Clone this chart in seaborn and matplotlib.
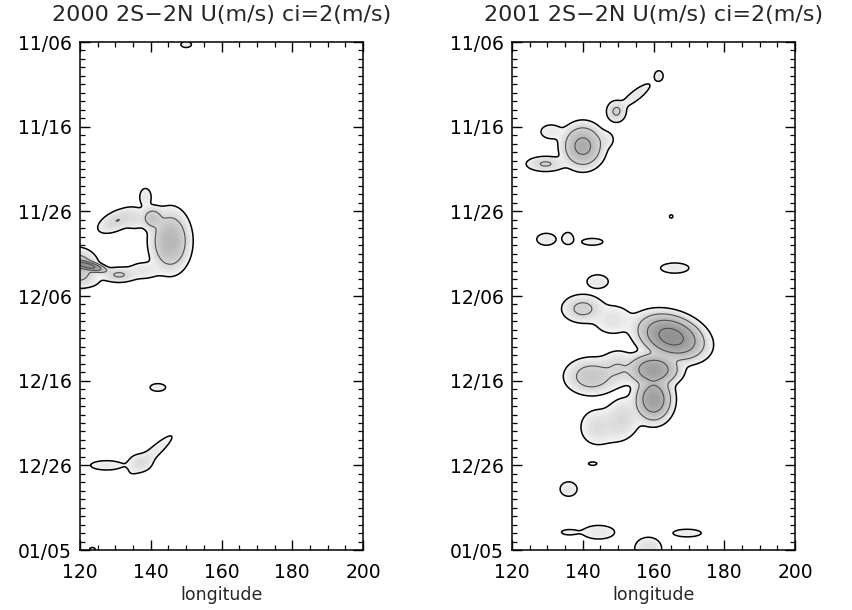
import numpy as np
import matplotlib
matplotlib.use("Agg")
import matplotlib.pyplot as plt
import seaborn as sns

# ---------------------------------------------------------------
# Time axis: days since 11/06 (60 days shown, time runs downward)
# ---------------------------------------------------------------
day_ticks = [0, 10, 20, 30, 40, 50, 60]
day_labels = ["11/06", "11/16", "11/26", "12/06", "12/16", "12/26", "01/05"]
lon_ticks = [120, 140, 160, 180, 200]

# Contour interval of the zonal wind anomaly (m/s); first drawn level
CI = 2.0
BASE = 5.0

# ---------------------------------------------------------------
# Westerly-burst cells for each year:
#   centre longitude, centre day, peak U (m/s),
#   half-extent of the 5 m/s contour in longitude (deg) and in days,
#   tilt (days per degree of longitude)
# ---------------------------------------------------------------
lon_2000 = [150.0, 138.5, 145.5, 140.5, 135.5, 130.5, 119.0, 122.0, 131.0,
            138.0, 122.0, 142.0, 140.5, 137.0, 127.5, 123.5]
day_2000 = [0.3, 18.3, 23.5, 20.8, 20.9, 21.1, 26.6, 26.4, 27.5,
            27.0, 28.2, 40.8, 48.6, 49.7, 50.0, 59.9]
peak_2000 = [5.6, 6.0, 9.0, 8.0, 6.3, 7.0, 8.5, 12.0, 7.2,
             6.0, 5.6, 5.6, 5.8, 6.2, 5.8, 5.2]
xr_2000 = [1.5, 1.6, 6.5, 3.5, 3.0, 5.5, 6.5, 6.8, 5.0,
           4.0, 3.0, 2.2, 5.5, 3.2, 4.5, 0.8]
yr_2000 = [0.35, 1.0, 4.2, 1.5, 1.1, 1.25, 2.4, 0.75, 0.9,
           0.9, 0.6, 0.45, 0.8, 1.0, 0.55, 0.2]
tilt_2000 = [0.0, 0.0, 0.0, 0.0, 0.0, -0.15, 0.0, 0.1, 0.0,
             0.0, 0.0, 0.0, -0.35, 0.0, 0.0, 0.0]

lon_2001 = [161.5, 149.5, 155.0, 140.0, 146.5, 131.0, 129.5, 165.0,
            129.7, 135.8, 142.7, 166.0, 144.2,
            140.0, 148.5, 165.0, 160.0, 160.0, 142.5, 150.0, 144.0, 151.0,
            142.8, 136.0, 136.0, 144.5, 158.5, 169.5]
day_2001 = [4.0, 8.2, 6.3, 12.3, 11.5, 10.6, 14.4, 20.6,
            23.3, 23.2, 23.6, 26.7, 28.3,
            31.5, 32.8, 34.8, 38.7, 42.2, 39.5, 38.5, 45.5, 44.6,
            49.8, 52.8, 57.9, 57.9, 59.8, 58.0]
peak_2001 = [6.0, 7.3, 6.0, 9.6, 5.8, 5.8, 7.2, 5.2,
             5.8, 5.7, 5.6, 5.8, 6.0,
             7.5, 6.2, 11.8, 10.5, 10.5, 8.0, 7.0, 6.5, 6.8,
             5.2, 6.0, 5.4, 6.0, 6.5, 5.6]
xr_2001 = [1.2, 2.8, 4.0, 7.0, 2.0, 2.8, 5.5, 0.5,
           2.7, 1.5, 3.0, 4.0, 3.0,
           6.0, 5.0, 12.0, 9.0, 6.5, 8.0, 5.0, 4.5, 5.5,
           1.2, 2.4, 2.0, 4.5, 3.8, 4.0]
yr_2001 = [0.6, 1.3, 0.7, 3.1, 0.8, 0.8, 0.9, 0.2,
           0.7, 0.7, 0.4, 0.6, 0.8,
           1.7, 1.6, 3.3, 2.4, 3.3, 2.3, 2.0, 2.0, 2.5,
           0.2, 0.85, 0.3, 0.8, 1.3, 0.45]
tilt_2001 = [0.0, 0.0, -0.29, 0.0, 0.0, 0.0, 0.0, 0.0,
             0.0, 0.0, 0.0, 0.0, 0.0,
             0.0, 0.0, 0.08, 0.0, 0.0, 0.0, 0.0, 0.0, -0.1,
             0.0, 0.0, 0.0, 0.0, 0.0, 0.0]

titles = ["2000 2S\u22122N U(m/s) ci=2(m/s)", "2001 2S\u22122N U(m/s) ci=2(m/s)"]


def wind_field(lon, day, x0s, y0s, peaks, xrs, yrs, tilts, p=6.0):
    """Soft envelope of elliptical cells whose 5 m/s contour has the given extents."""
    acc = np.zeros_like(lon)
    for x0, y0, a, rx, ry, s in zip(x0s, y0s, peaks, xrs, yrs, tilts):
        dx = lon - x0
        dy = day - y0 - s * dx
        q2 = (dx / rx) ** 2 + (dy / ry) ** 2
        cell = a * np.exp(-np.log(a / BASE) * q2)
        acc += cell ** p
    return acc ** (1.0 / p)


glon = np.linspace(120, 200, 401)
gday = np.linspace(0, 60, 481)
LON, DAY = np.meshgrid(glon, gday)

fields = [
    wind_field(LON, DAY, lon_2000, day_2000, peak_2000, xr_2000, yr_2000, tilt_2000),
    wind_field(LON, DAY, lon_2001, day_2001, peak_2001, xr_2001, yr_2001, tilt_2001),
]

sns.set_style("ticks")
plt.rcParams["font.family"] = ["DejaVu Sans"]
plt.rcParams["axes.linewidth"] = 1.1

VMAX = 13.0
shade = sns.blend_palette(["#f7f7f7", "#d6d6d6", "#b6b6b6", "#989898", "#888888"], as_cmap=True)
fill_levels = np.arange(BASE, VMAX + 0.01, 0.25)
line_levels = np.arange(BASE + CI, 14.0, CI)

fig = plt.figure(figsize=(8.52, 6.10), dpi=100)
W, H = 852.0, 610.0
ax_left_px = [80, 512]
ax_w_px, top_px, bot_px = 283, 42, 550

for i, (u, title) in enumerate(zip(fields, titles)):
    ax = fig.add_axes([ax_left_px[i] / W, 1 - bot_px / H, ax_w_px / W, (bot_px - top_px) / H])
    ax.contourf(LON, DAY, u, levels=fill_levels, cmap=shade, vmin=BASE, vmax=VMAX, extend="max")
    ax.contour(LON, DAY, u, levels=line_levels, colors="#505050", linewidths=0.8)
    ax.contour(LON, DAY, u, levels=[BASE], colors="black", linewidths=1.1)

    ax.set_xlim(120, 200)
    ax.set_ylim(60, 0)
    ax.set_xticks(lon_ticks)
    ax.set_xticks(np.arange(120, 201, 5), minor=True)
    ax.set_yticks(day_ticks)
    ax.set_yticklabels(day_labels)
    ax.set_yticks(np.arange(0, 61, 1), minor=True)
    ax.tick_params(which="both", direction="in", top=True, right=True,
                   colors="black", labelsize=13.5)
    ax.tick_params(which="major", length=7, width=1.0)
    ax.tick_params(which="minor", length=3.5, width=0.9)
    ax.tick_params(axis="y", pad=6)
    ax.tick_params(axis="x", pad=9)
    ax.set_xlabel("longitude", fontsize=12.5, labelpad=3)
    ax.set_title(title, fontsize=16, pad=15)
    for sp in ax.spines.values():
        sp.set_color("black")

fig.savefig("out.png", dpi=100, facecolor="white")
